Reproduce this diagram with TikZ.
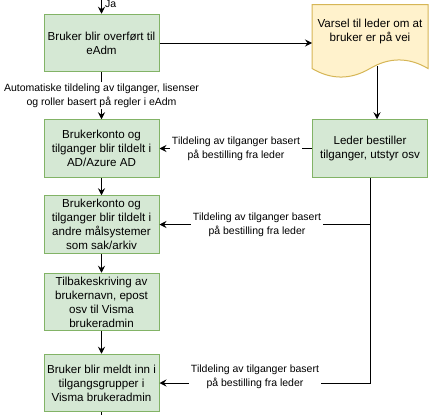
\documentclass[tikz,border=0pt]{standalone}
\usepackage{fontspec}
\setmainfont{Liberation Sans}
\usetikzlibrary{arrows.meta}
\definecolor{gronnfyll}{HTML}{D5E8D4}
\definecolor{gronnkant}{HTML}{82B366}
\definecolor{gulfyll}{HTML}{FFF2CC}
\definecolor{gulkant}{HTML}{D6B656}
\begin{document}
\begin{tikzpicture}[x=1pt,y=-1pt,
  boks/.style={draw=gronnkant,fill=gronnfyll,line width=1pt,minimum width=115pt,
    minimum height=57.5pt,align=center,inner sep=0pt,font=\fontsize{11.6}{14}\selectfont},
  merk/.style={fill=white,align=center,inner sep=1.5pt,font=\fontsize{10.5}{14}\selectfont},
  pil/.style={-{Stealth[length=7pt,width=7pt,inset=2.5pt]},line width=0.9pt}]

\useasboundingbox (0,0) rectangle (434,415);

\fill[gulfyll,draw=gulkant,line width=1pt] (312,4.5) -- (428,4.5) -- (428,68.5)
   .. controls (408.67,57.1) and (389.33,57.1) .. (370,68.5)
   .. controls (350.67,79.9) and (331.33,79.9) .. (312,68.5) -- cycle;
\node[align=center,font=\fontsize{11.6}{14}\selectfont] (varsel) at (370,31.5) {Varsel til leder om at\\bruker er på vei};
\coordinate (varselV) at (312,43);
\coordinate (varselS) at (377,66);

\node[boks] (overfort) at (101.5,43) {Bruker blir overført til\\eAdm};
\node[boks] (adkonto) at (101.5,148.5) {Brukerkonto og\\tilganger blir tildelt i\\AD/Azure AD};
\node[boks] (malsys) at (101.5,224.5) {Brukerkonto og\\tilganger blir tildelt i\\andre målsystemer\\som sak/arkiv};
\node[boks] (tilbake) at (101.5,302) {Tilbakeskriving av\\brukernavn, epost\\osv til Visma\\brukeradmin};
\node[boks] (meldtinn) at (101.5,383) {Bruker blir meldt inn i\\tilgangsgrupper i\\Visma brukeradmin};
\node[boks] (leder) at (370,148.5) {Leder bestiller\\tilganger, utstyr osv};

\coordinate (inn) at (101.5,-5);
\coordinate (ut) at (101.5,425);

        \draw[pil] (inn) -- (overfort.north);
        \draw (104,4) node[right,inner sep=1pt,font=\fontsize{10.5}{14}\selectfont] {Ja};
        \draw[pil] (overfort.east) -- (varselV);
        \draw[pil] (varselS) -- (varselS |- leder.north);
        \draw[pil] (overfort) -- (adkonto) node[merk,pos=0.5] {Automatiske tildeling av tilganger, lisenser\\og roller basert på regler i eAdm};
        \draw[pil] (adkonto) -- (malsys);
        \draw[pil] (malsys) -- (tilbake);
        \draw[pil] (tilbake) -- (meldtinn);
        \draw (meldtinn.south) -- (ut);

        \draw[pil] (leder.west) -- (adkonto.east);
        \draw (236,148.5) node[merk] {Tildeling av tilganger basert\\på bestilling fra leder};
        \draw[pil] (leder.south |- malsys.east) -- (malsys.east);
        \draw (257,225) node[merk] {Tildeling av tilganger basert\\på bestilling fra leder};
        \draw[pil] (leder.south) |- (meldtinn.east);
        \draw (255,376.5) node[merk] {Tildeling av tilganger basert\\på bestilling fra leder};
\end{tikzpicture}
\end{document}
